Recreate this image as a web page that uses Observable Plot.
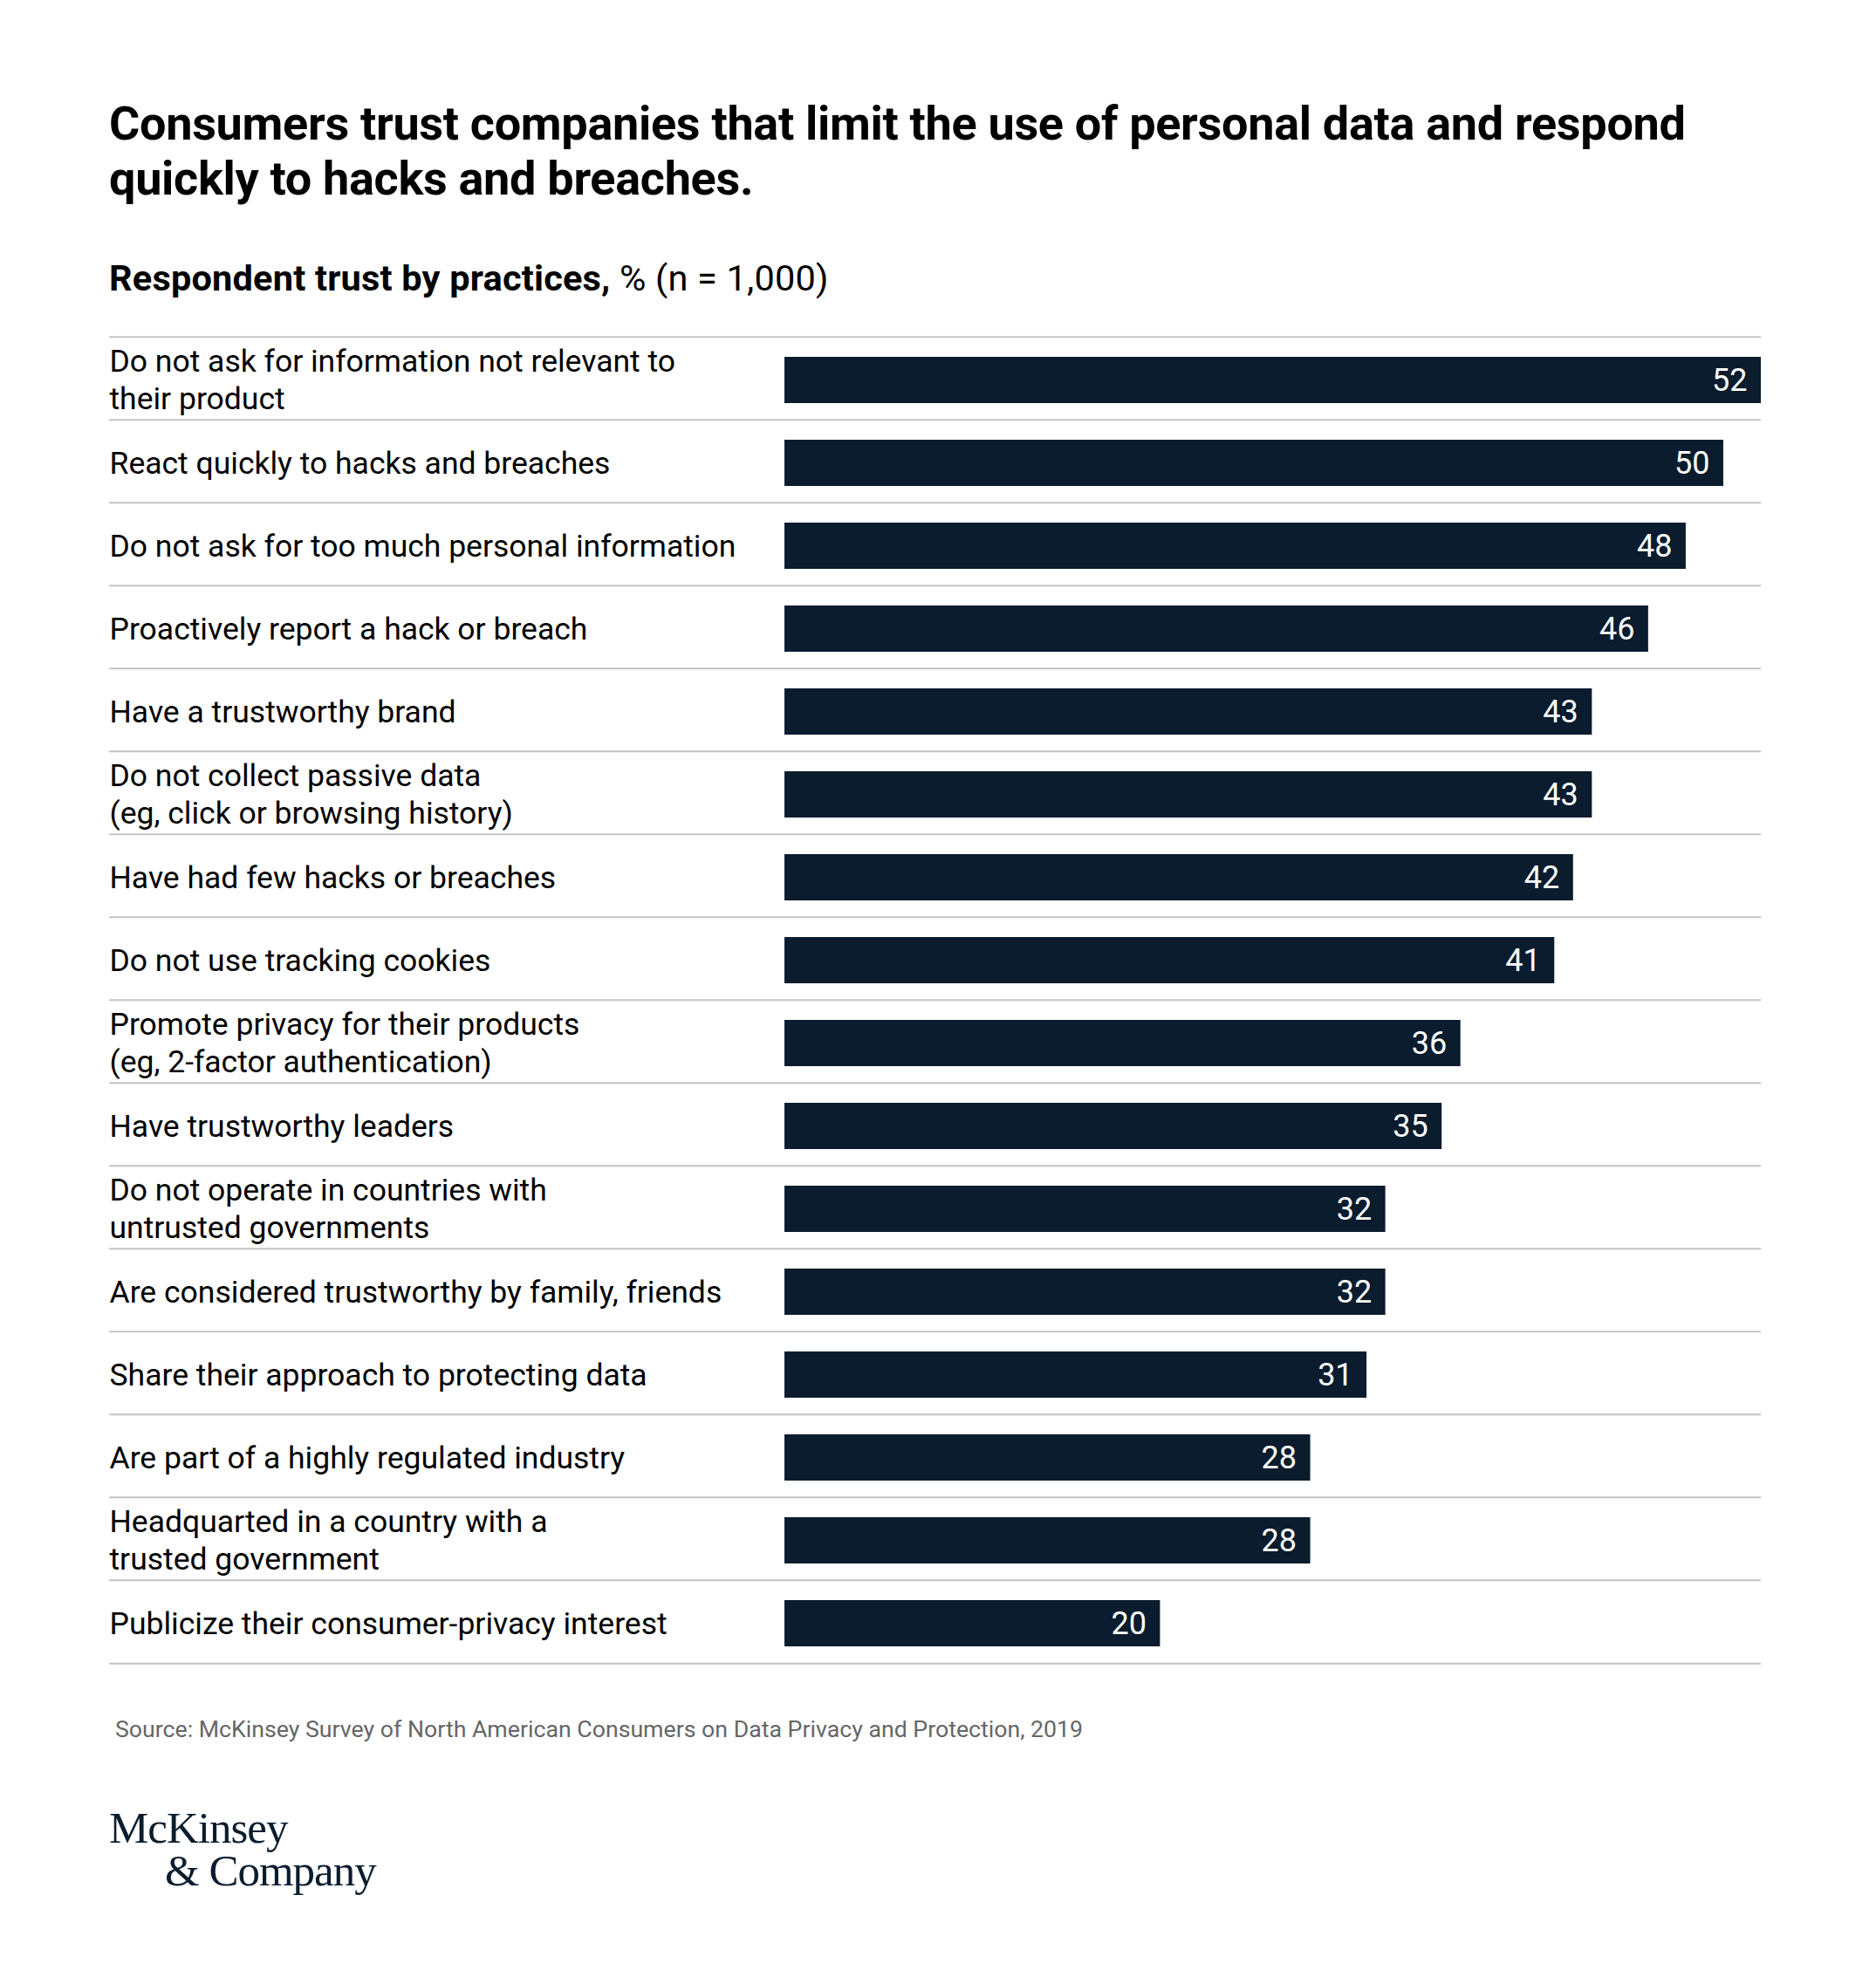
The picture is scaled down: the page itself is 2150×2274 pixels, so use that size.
<!DOCTYPE html>
<html>
<head>
<meta charset="utf-8">
<script src="https://cdn.jsdelivr.net/npm/d3@7"></script>
<script src="https://cdn.jsdelivr.net/npm/@observablehq/plot@0.6"></script>
<style>
  html, body { margin: 0; padding: 0; background: #fff; }
  body { width: 2150px; height: 2274px; position: relative; font-family: Roboto, "Noto Sans", sans-serif; color: #000; }
  #title { position: absolute; left: 125px; top: 110px; font-size: 54px; font-weight: 700; line-height: 63px; letter-spacing: -0.3px; }
  #subtitle { position: absolute; left: 125px; top: 296px; font-size: 41.5px; line-height: 46px; letter-spacing: 0.2px; }
  #subtitle b { font-weight: 700; }
  #chart { position: absolute; left: 0; top: 357px; }
  #source { position: absolute; left: 132px; top: 1966px; font-size: 26.7px; color: #666; }
  #logo { position: absolute; left: 125px; top: 2071px; font-family: "Liberation Serif", "DejaVu Serif", serif; color: #0b1d2e; font-size: 51px; line-height: 49px; letter-spacing: -1px; }
  #logo div + div { margin-left: 64px; }
</style>
</head>
<body>
<div id="title">Consumers trust companies that limit the use of personal data and respond<br>quickly to hacks and breaches.</div>
<div id="subtitle"><b>Respondent trust by practices,</b> % (n = 1,000)</div>
<div id="chart"></div>
<div id="source">Source: McKinsey Survey of North American Consumers on Data Privacy and Protection, 2019</div>
<div id="logo"><div>McKinsey</div><div>&amp; Company</div></div>
<script>
const categories = [
  "Do not ask for information not relevant to\ntheir product",
  "React quickly to hacks and breaches",
  "Do not ask for too much personal information",
  "Proactively report a hack or breach",
  "Have a trustworthy brand",
  "Do not collect passive data\n(eg, click or browsing history)",
  "Have had few hacks or breaches",
  "Do not use tracking cookies",
  "Promote privacy for their products\n(eg, 2-factor authentication)",
  "Have trustworthy leaders",
  "Do not operate in countries with\nuntrusted governments",
  "Are considered trustworthy by family, friends",
  "Share their approach to protecting data",
  "Are part of a highly regulated industry",
  "Headquarted in a country with a\ntrusted government",
  "Publicize their consumer-privacy interest"
];
const values = [52, 50, 48, 46, 43, 43, 42, 41, 36, 35, 32, 32, 31, 28, 28, 20];

const data = categories.map((c, i) => ({category: c, value: values[i]}));
const last = categories[categories.length - 1];

const top0 = 24, bottom0 = 1554;
const bw = (bottom0 - top0) / categories.length;

const chart = Plot.plot({
  width: 2150,
  height: 1580,
  marginLeft: 125,
  marginRight: 132,
  marginTop: top0,
  marginBottom: 1580 - bottom0,
  x: {domain: [0, 52], range: [899, 2018], axis: null},
  y: {domain: categories, range: [top0, bottom0], padding: 0, axis: null},
  style: {fontFamily: "Roboto, 'Noto Sans', sans-serif", background: "#fff"},
  marks: [
    Plot.ruleY(categories, {y: d => d, dy: -bw / 2, stroke: "#c4c4c4", strokeWidth: 2}),
    Plot.ruleY([last], {y: d => d, dy: bw / 2, stroke: "#c4c4c4", strokeWidth: 2}),
    Plot.barX(data, {x: "value", y: "category", fill: "#0a1c2d", insetTop: 21, insetBottom: 21, dy: 2}),
    Plot.text(data, {x: "value", y: "category", text: d => String(d.value), textAnchor: "end", dx: -16, dy: 2, fill: "#fff", fontSize: 36}),
    Plot.text(data, {y: "category", text: "category", frameAnchor: "left", textAnchor: "start", fill: "#000", fontSize: 35.5, lineHeight: 1.2})
  ]
});
document.getElementById("chart").appendChild(chart);
</script>
</body>
</html>
